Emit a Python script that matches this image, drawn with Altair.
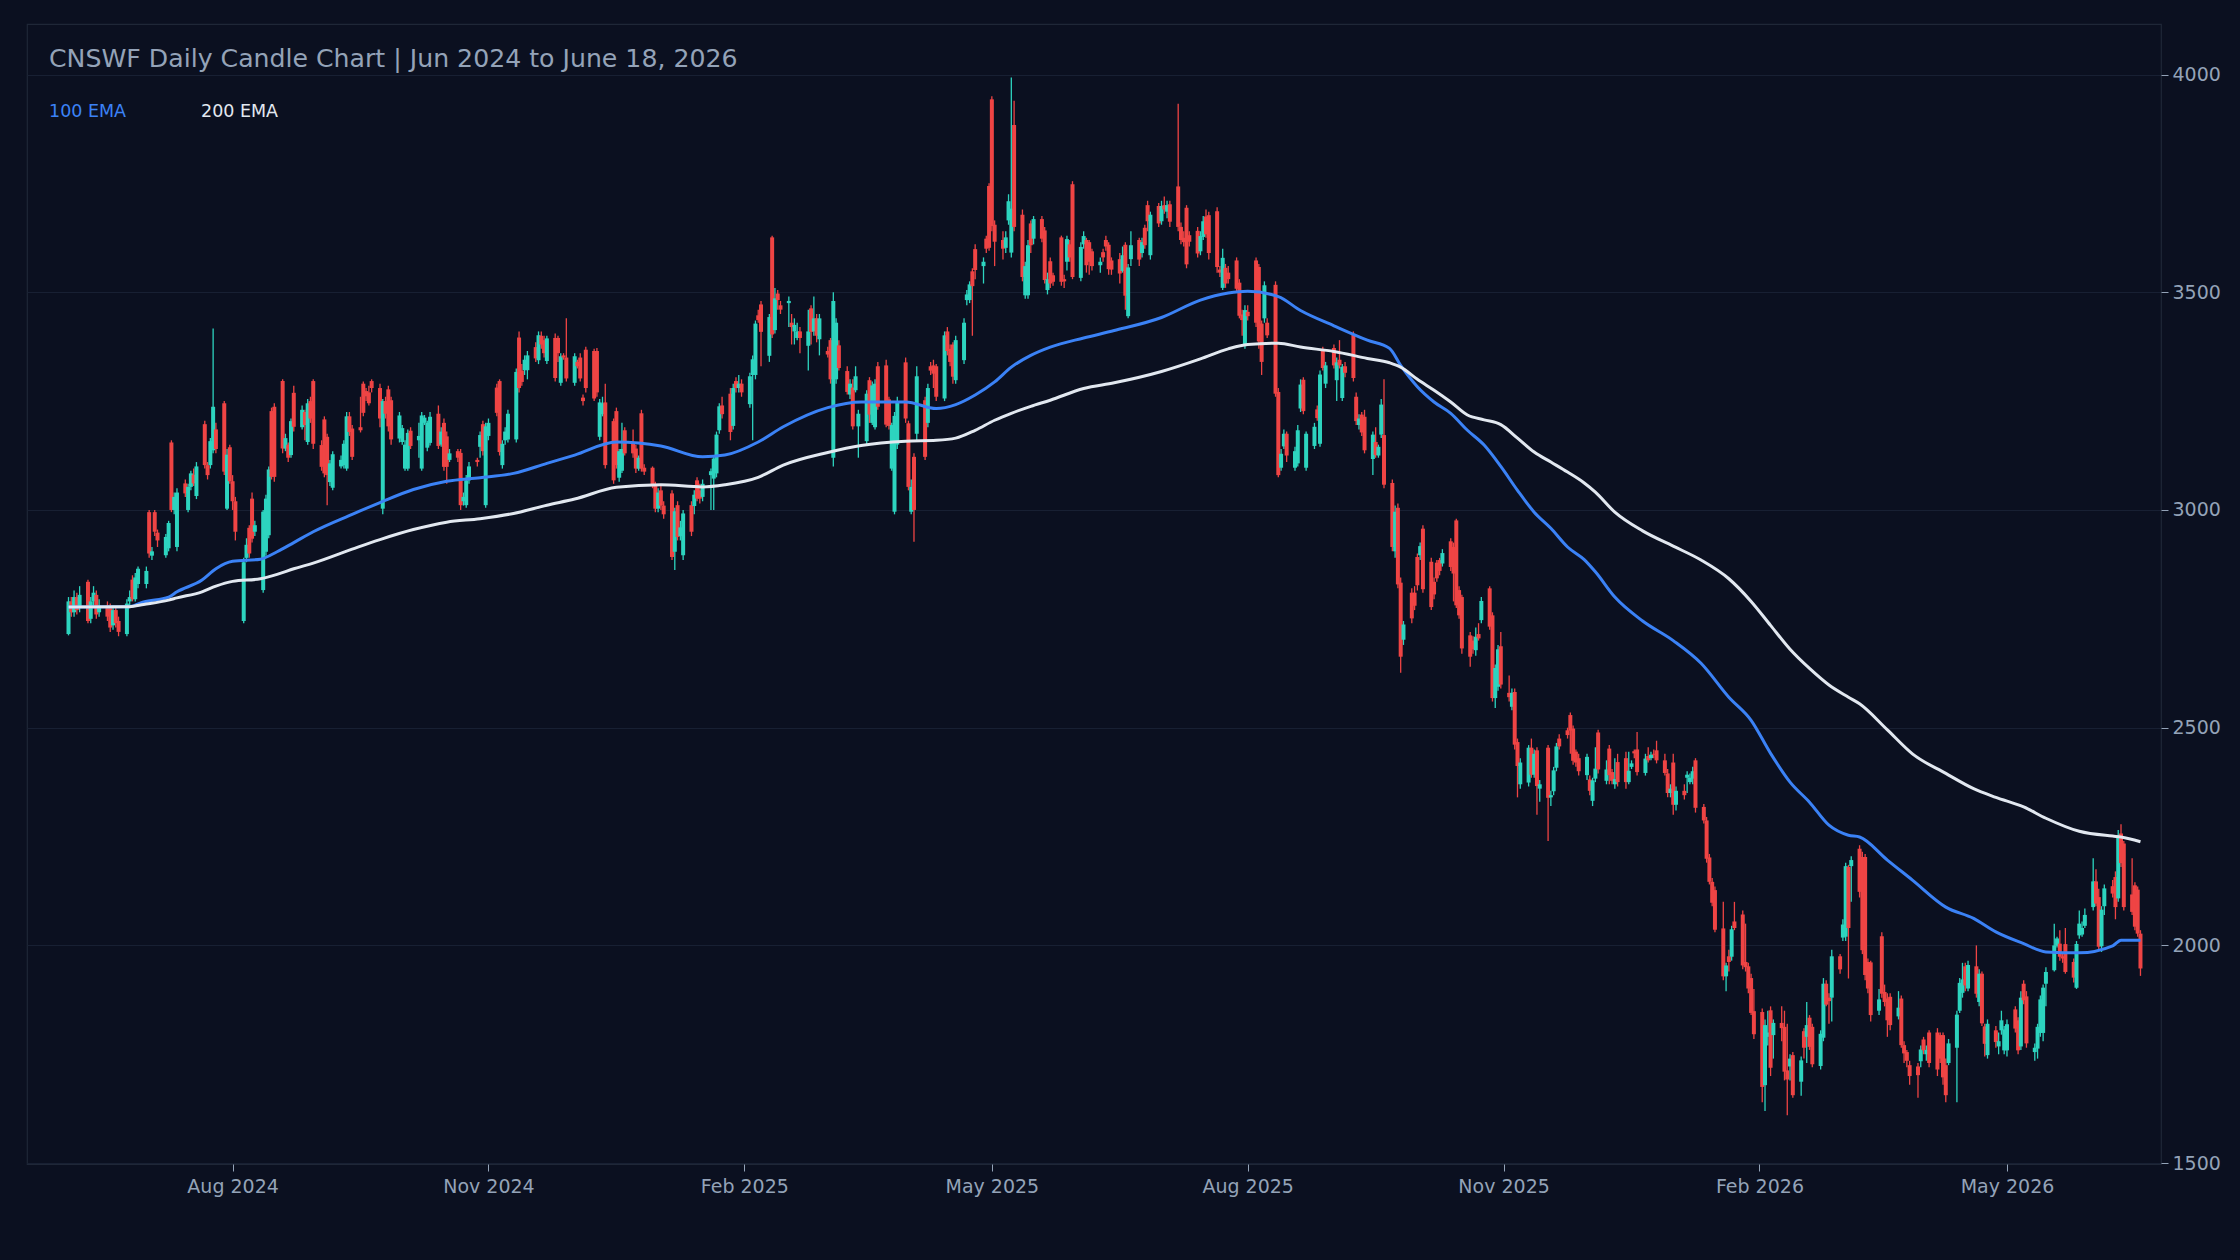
import altair as alt
import numpy as np
import pandas as pd

TITLE = "CNSWF Daily Candle Chart | Jun 2024 to June 18, 2026"
LEGEND_LABELS = ["100 EMA", "200 EMA"]
FIRST_DAY = "2024-06-03"

OPEN = [
    # 2024-06
    2715,2790,2765,2800,2775,2835,2750,2790,2805,2765,2780,2775,2735,2770,2745,2715,2790,2840,2795,2830,
    # 2024-07
    2830,2995,2895,2995,2948,2896,2912,3155,3000,2915,3061,3000,3053,3081,3032,3197,3103,3103,3137,3185,3245,3003,3144,
    # 2024-08
    3066,3020,2745,2890,2959,3026,2950,2816,2904,2942,3227,3237,3296,3141,3150,3126,3269,3190,3225,3156,3250,3296,
    # 2024-09
    3149,3208,3168,3064,3051,3100,3103,3095,3215,3187,3190,3290,3273,3270,3296,3280,3003,3250,3277,3252,3164,
    # 2024-10
    3156,3095,3095,3182,3160,3095,3200,3143,3154,3221,3150,3200,3169,3115,3135,3131,3020,3011,3068,3115,3145,3197,3011,
    # 2024-11
    3170,3281,3296,3103,3160,3162,3162,3396,3320,3321,3321,3374,3344,3400,3390,3342,3395,3395,3292,3355,3350,
    # 2024-12
    3292,3340,3350,3258,3368,3365,3365,3168,3220,3247,3204,3227,3074,3090,3183,3155,3141,3095,3222,3097,3097,3057,
    # 2025-01
    3003,3045,3010,3038,2904,3011,2940,2896,3011,3009,3068,3045,3030,3080,3072,3084,3183,3240,3267,3193,3296,3280,3290,
    # 2025-02
    3243,3310,3310,3447,3472,3354,3626,3413,3497,3470,3475,3430,3410,3395,3410,3377,3463,3410,3440,3392,
    # 2025-03
    3365,3390,3120,3300,3378,3319,3265,3281,3275,3192,3158,3298,3200,3190,3330,3332,3254,3095,2996,3150,3339,
    # 2025-04
    3199,2996,3122,3175,3252,3200,3330,3332,3330,3256,3410,3370,3380,3298,3344,3482,3482,3548,3599,3560,3623,3744,
    # 2025-05
    3943,3655,3620,3602,3665,3591,3884,3678,3493,3493,3658,3623,3668,3642,3505,3571,3539,3626,3530,3570,3610,3748,
    # 2025-06
    3533,3610,3620,3615,3594,3562,3592,3620,3609,3573,3576,3549,3609,3445,3576,3620,3590,3648,3700,3585,3698,
    # 2025-07
    3663,3700,3685,3702,3743,3650,3625,3694,3631,3641,3594,3627,3674,3677,3686,3552,3510,3556,3545,3573,3522,3449,3378,
    # 2025-08
    3455,3573,3558,3428,3440,3430,3517,3271,3097,3146,3175,3097,3107,3233,3299,3097,3147,3231,3152,3365,3290,
    # 2025-09
    3372,3298,3345,3257,3330,3403,3260,3195,3219,3214,3117,3156,3125,3173,3172,3062,2905,3005,2833,2702,2810,2810,
    # 2025-10
    2892,2896,2957,2881,2835,2879,2885,2877,2928,2915,2976,2816,2800,2712,2700,2678,2715,2747,2820,2758,2568,2594,2687,
    # 2025-11
    2580,2548,2582,2467,2370,2374,2454,2392,2448,2360,2454,2340,2354,2408,2475,2494,2529,2498,2445,2430,
    # 2025-12
    2391,2381,2332,2383,2489,2378,2452,2398,2370,2421,2430,2375,2410,2446,2450,2396,2435,2430,2440,2448,2425,2395,2350,
    # 2026-01
    2420,2323,2355,2385,2375,2383,2425,2318,2287,2202,2146,2127,2039,1929,1975,1974,2055,2071,1962,1952,1925,1849,
    # 2026-02
    1847,1679,1790,1851,1794,1822,1813,1713,1722,1748,1687,1803,1790,1834,1813,1723,1788,1912,1880,1880,
    # 2026-03
    1975,2018,2020,2180,2182,2222,2203,2203,1962,1961,1850,2021,1893,1878,1882,1837,1878,1771,1755,1725,1722,1734,
    # 2026-04
    1784,1750,1800,1800,1794,1794,1725,1730,1765,1850,1891,1952,1901,1952,1870,1935,1814,1748,1805,1768,1805,1759,
    # 2026-05
    1759,1853,1828,1768,1912,1883,1755,1763,1799,1799,1912,1943,1999,2004,1975,2003,1962,1903,2023,2025,2045,
    # 2026-06
    2088,2147,2111,1998,2090,2136,2157,2108,2257,2234,2117,2138,2128,2027,
]

HIGH = [
    2800,2800,2815,2810,2825,2840,2800,2825,2815,2795,2790,2785,2780,2775,2755,2795,2815,2850,2855,2870,
    2870,3000,2915,3000,2955,2945,2975,3160,3040,3050,3070,3060,3090,3095,3110,3205,3110,3165,3417,3200,3250,3140,3150,
    3080,3030,2890,2935,2965,3040,2975,3000,3035,3100,3235,3245,3300,3175,3155,3210,3285,3240,3230,3255,3260,3300,
    3160,3215,3175,3115,3135,3125,3160,3225,3225,3195,3260,3295,3280,3285,3300,3290,3255,3260,3285,3260,3225,
    3195,3160,3185,3190,3200,3225,3218,3205,3225,3240,3190,3210,3180,3140,3140,3140,3040,3080,3110,3120,3180,3205,3200,
    3210,3290,3300,3160,3190,3230,3325,3410,3335,3355,3365,3385,3410,3410,3400,3400,3405,3400,3360,3360,3440,
    3360,3345,3360,3265,3375,3370,3372,3255,3260,3290,3210,3235,3140,3200,3190,3185,3150,3125,3230,3105,3100,3065,
    3050,3055,3020,3045,3005,3020,2975,3000,3020,3045,3075,3060,3070,3095,3125,3180,3245,3260,3280,3290,3305,3310,3300,
    3315,3355,3435,3460,3480,3450,3630,3510,3505,3480,3490,3450,3440,3430,3420,3460,3470,3490,3450,3450,
    3375,3395,3500,3440,3390,3330,3300,3300,3330,3230,3275,3305,3295,3300,3340,3345,3260,3200,3225,3260,3350,
    3205,3070,3130,3330,3260,3290,3340,3345,3335,3410,3420,3380,3385,3400,3440,3505,3525,3555,3610,3580,3630,3750,
    3950,3665,3640,3640,3725,3993,3940,3690,3570,3620,3665,3675,3675,3650,3545,3580,3545,3630,3540,3630,3620,3755,
    3615,3640,3625,3620,3600,3580,3600,3630,3615,3580,3590,3605,3615,3565,3640,3625,3625,3655,3710,3685,3705,
    3710,3720,3710,3710,3933,3660,3640,3700,3640,3650,3640,3675,3690,3685,3695,3560,3600,3565,3560,3580,3530,3460,3470,
    3470,3580,3565,3435,3525,3440,3525,3280,3140,3185,3180,3145,3195,3300,3305,3180,3200,3240,3320,3375,3340,
    3380,3350,3390,3335,3340,3410,3270,3220,3225,3230,3180,3190,3150,3255,3300,3070,3010,3015,2845,2745,2820,2825,
    2900,2925,2965,2890,2845,2885,2890,2910,2935,2925,2980,2825,2805,2720,2710,2730,2740,2800,2825,2765,2645,2690,2720,
    2620,2590,2590,2475,2430,2460,2475,2450,2455,2380,2460,2355,2410,2465,2485,2500,2535,2505,2450,2440,
    2440,2390,2385,2455,2495,2425,2460,2405,2430,2440,2445,2445,2425,2450,2490,2440,2455,2445,2450,2470,2440,2405,2370,
    2440,2365,2370,2400,2395,2410,2430,2325,2295,2210,2155,2135,2100,1960,1990,2045,2100,2080,2050,1960,1935,1900,
    1855,1830,1850,1860,1830,1860,1850,1820,1750,1755,1745,1810,1870,1840,1820,1805,1925,1920,1890,1990,
    1980,2060,2190,2185,2205,2230,2215,2210,1970,1965,1900,2030,1910,1890,1890,1895,1885,1780,1760,1735,1730,1770,
    1790,1770,1805,1810,1800,1800,1740,1785,1850,1925,1960,1960,1965,2000,1945,1940,1820,1830,1815,1800,1850,1815,
    1830,1860,1835,1895,1920,1895,1775,1820,1885,1910,1950,2050,2020,2035,1985,2040,1970,2010,2080,2055,2085,
    2200,2175,2130,2090,2140,2150,2170,2265,2278,2240,2200,2145,2135,2035,
]

LOW = [
    2712,2755,2755,2760,2765,2740,2740,2780,2750,2755,2745,2720,2725,2730,2710,2710,2780,2790,2790,2820,
    2820,2890,2885,2940,2915,2890,2905,2995,2990,2905,3030,2995,3045,3055,3025,3095,3070,3095,3130,3130,3080,3000,3060,
    3000,2930,2740,2880,2890,2925,2940,2810,2895,2935,3070,3065,3130,3135,3110,3120,3180,3185,3160,3150,3200,3140,
    3090,3075,3011,3055,3045,3095,3095,3090,3170,3115,3178,3215,3250,3240,3270,3190,2990,3210,3180,3150,3155,
    3150,3090,3090,3140,3120,3090,3195,3135,3148,3140,3145,3090,3060,3110,3110,3000,3010,3005,3060,3100,3120,3125,3005,
    3160,3215,3125,3095,3150,3155,3155,3270,3285,3310,3300,3340,3335,3370,3350,3335,3295,3340,3285,3345,3295,
    3285,3325,3295,3240,3270,3250,3260,3160,3215,3095,3060,3095,3065,3085,3125,3120,3085,3090,3088,3080,3050,2995,
    2995,3000,2980,2885,2862,2930,2930,2885,2940,2990,3020,3015,3020,3000,3000,3075,3175,3210,3160,3185,3270,3270,3260,
    3235,3160,3300,3430,3330,3340,3395,3405,3460,3450,3420,3380,3380,3390,3360,3320,3380,3400,3385,3355,
    3350,3290,3100,3290,3320,3265,3255,3185,3270,3120,3150,3200,3195,3185,3230,3190,3185,3090,2990,3140,3200,
    3045,2990,2927,3160,3115,3190,3310,3280,3250,3250,3355,3330,3290,3290,3335,3470,3475,3400,3530,3520,3590,3595,
    3640,3560,3575,3590,3655,3580,3640,3525,3485,3485,3590,3610,3615,3520,3495,3510,3515,3515,3510,3550,3570,3530,
    3525,3600,3545,3540,3550,3545,3570,3595,3540,3540,3520,3545,3460,3440,3560,3560,3580,3600,3640,3575,3650,
    3655,3680,3670,3650,3640,3610,3605,3555,3605,3580,3585,3620,3625,3575,3545,3535,3505,3510,3520,3500,3440,3400,3370,
    3435,3420,3370,3310,3430,3395,3260,3075,3090,3140,3110,3090,3100,3225,3220,3090,3140,3205,3145,3320,3280,
    3325,3250,3325,3250,3305,3295,3195,3185,3170,3130,3080,3120,3120,3165,3050,2905,2890,2820,2626,2690,2740,2770,
    2815,2885,2810,2770,2795,2835,2850,2870,2860,2790,2775,2750,2670,2640,2670,2665,2700,2740,2725,2560,2545,2585,2590,
    2560,2540,2450,2340,2360,2365,2385,2385,2300,2330,2240,2320,2345,2400,2450,2475,2440,2415,2410,2390,
    2380,2345,2320,2375,2395,2370,2370,2370,2360,2365,2360,2370,2405,2430,2390,2390,2420,2425,2430,2418,2390,2340,2340,
    2300,2310,2335,2350,2370,2370,2305,2280,2190,2140,2090,2030,1920,1895,1940,1965,2035,1945,1940,1890,1840,1785,
    1640,1620,1770,1700,1740,1780,1690,1610,1690,1650,1655,1740,1730,1760,1720,1715,1780,1860,1820,1825,
    1935,2010,2010,1924,2100,2110,1980,1920,1890,1825,1840,1880,1860,1790,1805,1830,1765,1730,1720,1680,1650,1720,
    1750,1735,1720,1700,1730,1680,1640,1725,1640,1845,1880,1895,1895,1880,1860,1815,1745,1740,1765,1750,1795,1750,
    1745,1800,1750,1760,1865,1765,1735,1740,1790,1780,1860,1940,1995,1965,1960,1935,1915,1900,2015,2020,2040,
    2080,2090,1990,1985,2070,2110,2060,2100,2180,2080,2070,2035,2020,1930,
]

CLOSE = [
    2790,2765,2800,2770,2805,2745,2790,2810,2760,2780,2755,2730,2770,2740,2720,2785,2800,2795,2845,2865,
    2860,2900,2905,2950,2930,2938,2970,3000,3030,3040,3038,3053,3084,3061,3100,3103,3080,3158,3237,3140,3088,3127,3066,
    3020,2950,2880,2920,2900,2934,2965,2996,3026,3093,3076,3076,3141,3165,3120,3204,3191,3230,3195,3245,3210,3152,
    3099,3084,3080,3107,3128,3115,3152,3215,3179,3122,3183,3223,3261,3245,3280,3210,3250,3221,3192,3162,3217,
    3188,3150,3177,3147,3170,3217,3212,3200,3214,3147,3180,3099,3099,3130,3120,3011,3030,3068,3100,3110,3172,3135,3192,
    3200,3223,3133,3152,3180,3221,3317,3280,3294,3345,3355,3348,3401,3380,3360,3394,3303,3360,3353,3350,3302,
    3353,3330,3302,3250,3280,3256,3270,3247,3245,3103,3068,3103,3135,3140,3130,3130,3095,3120,3095,3088,3057,3003,
    3040,3010,2990,2892,2997,2938,2960,2992,2950,3035,3026,3026,3060,3089,3118,3173,3238,3220,3179,3280,3280,3290,3270,
    3307,3346,3428,3436,3409,3443,3403,3486,3482,3460,3480,3420,3425,3410,3395,3410,3409,3440,3400,3440,
    3357,3300,3480,3430,3326,3271,3290,3192,3307,3221,3267,3219,3286,3290,3237,3196,3193,3195,3216,3250,3210,
    3053,3053,3000,3307,3122,3280,3320,3313,3260,3401,3365,3340,3306,3390,3430,3495,3518,3514,3551,3570,3600,3602,
    3652,3616,3600,3626,3709,3692,3650,3535,3560,3608,3608,3668,3623,3528,3530,3520,3524,3524,3525,3622,3580,3535,
    3604,3629,3562,3570,3560,3570,3580,3605,3553,3552,3543,3585,3492,3557,3608,3575,3615,3608,3663,3678,3658,
    3698,3690,3700,3662,3650,3620,3615,3564,3616,3589,3629,3663,3633,3590,3558,3545,3579,3520,3530,3508,3446,3436,3459,
    3445,3430,3387,3340,3516,3401,3267,3080,3129,3175,3125,3135,3183,3288,3227,3175,3191,3211,3311,3326,3332,
    3332,3339,3332,3329,3315,3303,3204,3210,3178,3137,3173,3126,3145,3242,3058,2915,2996,2829,2663,2737,2751,2780,
    2827,2917,2818,2777,2806,2843,2860,2901,2869,2854,2781,2758,2682,2663,2680,2709,2705,2791,2732,2568,2637,2680,2599,
    2570,2580,2461,2412,2420,2454,2392,2440,2366,2370,2339,2345,2402,2457,2457,2483,2493,2424,2420,2400,
    2433,2355,2379,2406,2404,2404,2391,2378,2382,2375,2375,2401,2418,2441,2398,2429,2425,2438,2438,2425,2396,2350,2360,
    2323,2355,2345,2392,2385,2400,2316,2287,2199,2146,2098,2036,1929,1954,1962,2037,2040,1954,1950,1901,1845,1796,
    1675,1817,1800,1719,1822,1810,1710,1692,1740,1656,1736,1765,1817,1767,1727,1797,1912,1864,1872,1975,
    1945,2048,2182,2040,2196,2123,1989,1932,1901,1840,1876,1889,1870,1828,1817,1857,1771,1752,1735,1700,1702,1761,
    1759,1760,1730,1715,1740,1697,1656,1775,1841,1914,1922,1908,1955,1889,1935,1821,1774,1820,1778,1780,1828,1807,
    1819,1809,1759,1880,1874,1775,1765,1813,1876,1903,1939,2000,2016,1974,1970,1939,1926,2003,2050,2040,2070,
    2147,2096,1997,2082,2131,2119,2088,2253,2189,2088,2077,2043,2027,1947,
]

EMA_DATES = [
    "2024-06-03","2024-06-25","2024-06-30","2024-07-09","2024-07-12","2024-07-21","2024-07-26","2024-08-01",
    "2024-08-11","2024-08-17","2024-08-23","2024-08-30","2024-09-13","2024-09-23","2024-10-05","2024-10-17",
    "2024-10-29","2024-11-10","2024-11-22","2024-12-02","2024-12-17","2025-01-02","2025-01-17","2025-01-25",
    "2025-02-06","2025-02-15","2025-03-03","2025-03-15","2025-03-31","2025-04-11","2025-04-18","2025-04-25",
    "2025-05-02","2025-05-08","2025-05-15","2025-05-22","2025-06-03","2025-06-14","2025-07-01","2025-07-15",
    "2025-07-25","2025-08-01","2025-08-12","2025-08-20","2025-09-01","2025-09-13","2025-09-21","2025-09-25",
    "2025-10-01","2025-10-07","2025-10-13","2025-10-19","2025-10-25","2025-10-31","2025-11-06","2025-11-12",
    "2025-11-18","2025-11-24","2025-11-30","2025-12-04","2025-12-11","2025-12-21","2026-01-01","2026-01-11",
    "2026-01-21","2026-01-29","2026-02-05","2026-02-12","2026-02-19","2026-02-26","2026-03-05","2026-03-09",
    "2026-03-19","2026-03-28","2026-04-09","2026-04-19","2026-04-27","2026-05-07","2026-05-15","2026-05-27",
    "2026-06-08","2026-06-11","2026-06-18",
]
EMA_100 = [
    2777,2778,2789,2800,2812,2839,2865,2882,2887,2904,2925,2950,2990,3017,3047,3066,
    3074,3084,3107,3126,3156,3147,3122,3126,3156,3191,3235,3248,3248,3233,3242,3264,
    3294,3328,3355,3374,3395,3412,3442,3482,3498,3502,3490,3458,3423,3390,3371,3332,
    3283,3248,3222,3183,3149,3100,3045,2995,2958,2915,2886,2858,2800,2745,2700,2648,
    2570,2517,2441,2375,2329,2276,2253,2249,2196,2150,2088,2062,2031,2004,1985,1983,
    1999,2012,2012,
]
EMA_200 = [
    2777,2778,2783,2793,2798,2812,2825,2836,2842,2852,2865,2878,2910,2932,2955,2972,
    2980,2992,3011,3025,3052,3058,3053,3058,3075,3103,3132,3148,3158,3160,3165,3183,
    3206,3222,3238,3252,3279,3292,3318,3347,3370,3380,3383,3374,3364,3348,3338,3328,
    3300,3275,3248,3218,3207,3196,3165,3133,3110,3087,3062,3041,2995,2952,2917,2885,
    2842,2790,2735,2680,2636,2598,2570,2555,2495,2440,2395,2360,2340,2318,2292,2262,
    2251,2249,2238,
]

Y_TICKS = [1500, 2000, 2500, 3000, 3500, 4000]
X_TICKS = ["2024-08-01", "2024-11-01", "2025-02-01", "2025-05-01",
           "2025-08-01", "2025-11-01", "2026-02-01", "2026-05-01"]
X_RANGE = ["2024-05-20 21:00", "2026-06-23 14:00"]
Y_RANGE = [1498, 4116]

BG = "#0b1020"
FRAME = "#1f2737"
GRID = "#182033"
LABEL = "#94a3b8"
UP = "#2dd4bf"
DOWN = "#ef4444"
BLUE = "#3b82f6"
WHITE = "#e2e8f0"
FONT = "DejaVu Sans"


def ms(s):
    return int(pd.Timestamp(s).value // 10**6)


n = min(len(OPEN), len(HIGH), len(LOW), len(CLOSE))
days = pd.bdate_range(FIRST_DAY, periods=n)
df = pd.DataFrame({
    "t": [ms(d) for d in days],
    "open": OPEN[:n],
    "high": HIGH[:n],
    "low": LOW[:n],
    "close": CLOSE[:n],
})
df["high"] = df[["high", "open", "close"]].max(axis=1)
df["low"] = df[["low", "open", "close"]].min(axis=1)
df["dir"] = np.where(df["close"] >= df["open"], "up", "down")

ema = pd.DataFrame({
    "t": [ms(d) for d in EMA_DATES],
    "ema100": EMA_100,
    "ema200": EMA_200,
})

xscale = alt.Scale(type="utc", domain=[ms(X_RANGE[0]), ms(X_RANGE[1])], nice=False)
yscale = alt.Scale(domain=Y_RANGE, nice=False, zero=False)
xaxis = alt.Axis(values=[ms(v) for v in X_TICKS], format="%b %Y", title=None,
                 labelColor=LABEL, labelFont=FONT, labelFontSize=19, labelPadding=6,
                 tickColor=LABEL, tickSize=7, tickWidth=1, domain=False, grid=False)
yaxis = alt.Axis(orient="right", values=Y_TICKS, format="d", title=None,
                 labelColor=LABEL, labelFont=FONT, labelFontSize=19, labelPadding=4,
                 tickColor=LABEL, tickSize=7, tickWidth=1, domain=False,
                 grid=True, gridColor=GRID, gridWidth=1)
colour = alt.Color("dir:N", scale=alt.Scale(domain=["up", "down"], range=[UP, DOWN]), legend=None)

X = alt.X("t:T", scale=xscale, axis=xaxis)

wicks = alt.Chart(df).mark_rule(strokeWidth=1.3).encode(
    x=X, y=alt.Y("low:Q", scale=yscale, axis=yaxis), y2="high:Q", color=colour)
bodies = alt.Chart(df).mark_bar(size=4).encode(
    x=X, y=alt.Y("open:Q", scale=yscale, axis=yaxis), y2="close:Q", color=colour)
line100 = alt.Chart(ema).mark_line(color=BLUE, strokeWidth=3, interpolate="monotone").encode(
    x=X, y=alt.Y("ema100:Q", scale=yscale, axis=yaxis))
line200 = alt.Chart(ema).mark_line(color=WHITE, strokeWidth=3, interpolate="monotone").encode(
    x=X, y=alt.Y("ema200:Q", scale=yscale, axis=yaxis))

title = alt.Chart(pd.DataFrame({"s": [TITLE]})).mark_text(
    align="left", baseline="middle", font=FONT, fontSize=25.2, color=LABEL).encode(
    x=alt.value(22), y=alt.value(35), text="s:N")
leg1 = alt.Chart(pd.DataFrame({"s": [LEGEND_LABELS[0]]})).mark_text(
    align="left", baseline="middle", font=FONT, fontSize=17.5, color=BLUE).encode(
    x=alt.value(22), y=alt.value(88), text="s:N")
leg2 = alt.Chart(pd.DataFrame({"s": [LEGEND_LABELS[1]]})).mark_text(
    align="left", baseline="middle", font=FONT, fontSize=17.5, color=WHITE).encode(
    x=alt.value(174), y=alt.value(88), text="s:N")

chart = alt.layer(wicks, bodies, line100, line200, title, leg1, leg2).properties(
    width=2134, height=1140,
    padding={"left": 19, "top": 16, "right": 0, "bottom": 4},
    background=BG,
).configure_view(stroke=FRAME, strokeWidth=1.2)


class _DarkPage:
    def render(self, **kwargs):
        from altair.utils.html import HTML_TEMPLATE
        html = HTML_TEMPLATE.render(**kwargs)
        css = ("<style>html,body{background:%s;}"
               ".vega-embed svg{flex-shrink:0;}</style>") % BG
        if "<head>" in html:
            return html.replace("<head>", "<head>" + css, 1)
        return css + html


try:
    chart.save("out.html", embed_options={"renderer": "svg", "actions": False}, template=_DarkPage())
except Exception:
    chart.save("out.html", embed_options={"renderer": "svg", "actions": False})
